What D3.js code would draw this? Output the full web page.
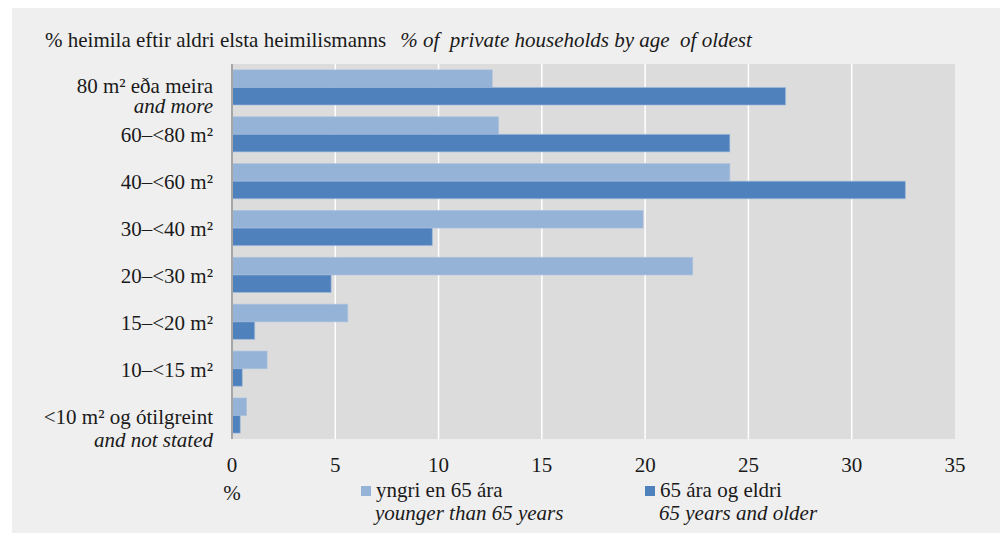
<!DOCTYPE html>
<html lang="is">
<head>
    <meta charset="UTF-8">
    <title>Heimili eftir stærð</title>
    <script src="https://d3js.org/d3.v7.min.js"></script>
    <style>
        body { margin: 0; background: #fff; }
        svg { display: block; }
        svg text { font-family: 'Liberation Serif', 'DejaVu Serif', 'Times New Roman', serif; }
    </style>
</head>
<body>
    <svg width="1000" height="533"></svg>
    <script>
        const width = 1000;
        const height = 533;
        const margin = {top: 64, left: 232, bottom: 94, right: 45};

        // top to bottom
        const categories = ['80+', '60-80', '40-60', '30-40', '20-30', '15-20', '10-15', '<10'];
        const labels = [
            ['80 m² eða meira', 'and more'],
            ['60–<80 m²'],
            ['40–<60 m²'],
            ['30–<40 m²'],
            ['20–<30 m²'],
            ['15–<20 m²'],
            ['10–<15 m²'],
            ['<10 m² og ótilgreint', 'and not stated']
        ];
        const younger = [12.6, 12.9, 24.1, 19.9, 22.3, 5.6, 1.7, 0.7];
        const older = [26.8, 24.1, 32.6, 9.7, 4.8, 1.1, 0.5, 0.4];
        const xTicks = [0, 5, 10, 15, 20, 25, 30, 35];
        const seriesNames = [
            ['yngri en 65 ára', 'younger than 65 years'],
            ['65 ára og eldri', '65 years and older']
        ];
        const colors = ['#95b3d7', '#4f81bd'];
        const fontSize = 21;

        const svg = d3.select('svg');

        svg.append('rect')
            .attr('x', 12).attr('y', 8)
            .attr('width', width - 12).attr('height', height - 8)
            .attr('fill', '#efefef');

        const x = d3.scaleLinear()
            .domain([0, 35])
            .range([margin.left, width - margin.right]);

        const y = d3.scaleBand()
            .domain(categories)
            .range([margin.top, height - margin.bottom])
            .paddingInner(0.25)
            .paddingOuter(0.125);

        const sub = d3.scaleBand()
            .domain([0, 1])
            .range([0, y.bandwidth()]);

        // plot background
        svg.append('rect')
            .attr('x', x(0)).attr('y', margin.top)
            .attr('width', x(35) - x(0))
            .attr('height', height - margin.bottom - margin.top)
            .attr('fill', '#dcdcdc');

        // gridlines
        svg.append('g')
            .selectAll('line').data(xTicks.slice(1, -1)).join('line')
            .attr('x1', d => x(d)).attr('x2', d => x(d))
            .attr('y1', margin.top).attr('y2', height - margin.bottom)
            .attr('stroke', '#fff')
            .attr('stroke-width', 1.5);

        // bars
        const series = [younger, older];
        series.forEach((vals, s) => {
            svg.append('g')
                .attr('fill', colors[s])
                .selectAll('rect').data(vals).join('rect')
                .attr('x', x(0))
                .attr('y', (d, i) => y(categories[i]) + sub(s))
                .attr('width', d => x(d) - x(0))
                .attr('height', sub.bandwidth())
                .attr('stroke', '#a9c0de')
                .attr('stroke-opacity', 0.6)
                .attr('stroke-width', 1);
        });

        // zero axis
        svg.append('line')
            .attr('x1', x(0)).attr('x2', x(0))
            .attr('y1', margin.top).attr('y2', height - margin.bottom)
            .attr('stroke', '#a6a6a6')
            .attr('stroke-width', 2);

        // x tick labels
        svg.append('g')
            .selectAll('text').data(xTicks).join('text')
            .attr('x', d => x(d))
            .attr('y', 472)
            .attr('text-anchor', 'middle')
            .attr('font-size', fontSize)
            .attr('fill', '#1a1a1a')
            .text(d => d);

        svg.append('text')
            .attr('x', x(0)).attr('y', 500)
            .attr('text-anchor', 'middle')
            .attr('font-size', fontSize)
            .attr('fill', '#1a1a1a')
            .text('%');

        // category labels
        const yl = svg.append('g')
            .attr('text-anchor', 'end')
            .attr('font-size', fontSize)
            .attr('fill', '#1a1a1a');
        labels.forEach((lines, i) => {
            const cy = y(categories[i]) + y.bandwidth() / 2;
            const last = i === labels.length - 1;
            const top = lines.length > 1 && !last ? 6 : 8;
            const gap = last ? 23 : 20;
            lines.forEach((t, j) => {
                yl.append('text')
                    .attr('x', 213)
                    .attr('y', cy + top + j * gap)
                    .attr('font-style', j ? 'italic' : null)
                    .text(t);
            });
        });

        // title
        const title = svg.append('text')
            .attr('x', 45).attr('y', 47)
            .attr('font-size', fontSize)
            .attr('fill', '#1a1a1a')
            .style('white-space', 'pre');
        title.append('tspan').text('% heimila eftir aldri elsta heimilismanns');
        title.append('tspan').attr('font-style', 'italic').attr('dx', 14)
            .text('% of  private households by age  of oldest');

        // legend
        const legendX = [361, 645];
        seriesNames.forEach((names, s) => {
            const g = svg.append('g').attr('fill', '#1a1a1a').attr('font-size', fontSize);
            g.append('rect')
                .attr('x', legendX[s]).attr('y', 486)
                .attr('width', 10).attr('height', 10)
                .attr('fill', colors[s]);
            g.append('text')
                .attr('x', legendX[s] + 15).attr('y', 497)
                .text(names[0]);
            g.append('text')
                .attr('x', legendX[s] + 14).attr('y', 520)
                .attr('font-style', 'italic')
                .text(names[1]);
        });
    </script>
</body>
</html>
